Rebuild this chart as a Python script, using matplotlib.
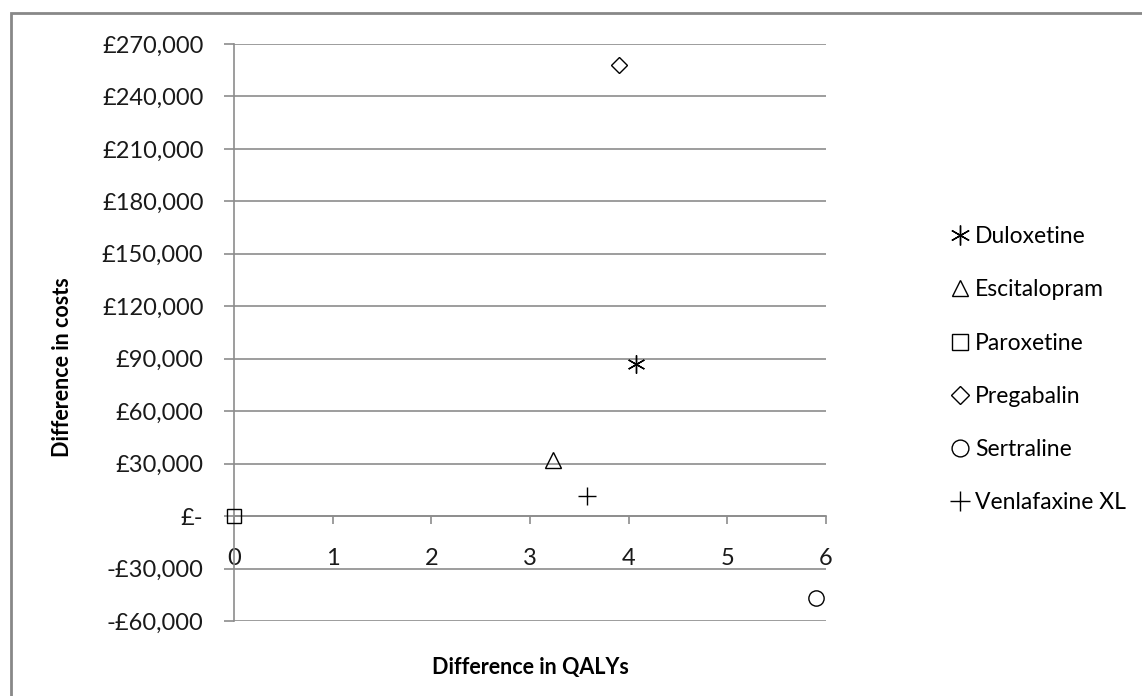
import matplotlib.pyplot as plt
from matplotlib.patches import Rectangle

# Cost-effectiveness plane: difference in QALYs vs difference in costs
drugs = ['Duloxetine', 'Escitalopram', 'Paroxetine', 'Pregabalin', 'Sertraline', 'Venlafaxine XL']
qalys = [4.07, 3.23, 0.0, 3.90, 5.90, 3.58]
costs = [87000, 32000, 0, 258000, -47000, 11500]
markers = [(6, 2, 0), '^', 's', 'D', 'o', '+']
msizes = [13, 11, 10, 8, 11, 13]

yticks = [-60000, -30000, 0, 30000, 60000, 90000, 120000, 150000, 180000, 210000, 240000, 270000]
ylabels = ['-£60,000', '-£30,000', '£-', '£30,000', '£60,000', '£90,000', '£120,000',
           '£150,000', '£180,000', '£210,000', '£240,000', '£270,000']
xticks = [0, 1, 2, 3, 4, 5, 6]

plt.rcParams['font.family'] = ['Lato', 'DejaVu Sans']
grey = '#8c8c8c'

fig = plt.figure(figsize=(11.42, 6.96), dpi=100)
ax = fig.add_axes([234 / 1142, 1 - 621 / 696, 592 / 1142, 577 / 696])

for d, x, y, m, s in zip(drugs, qalys, costs, markers, msizes):
    ax.plot(x, y, linestyle='none', marker=m, markersize=s, markerfacecolor='none',
            markeredgecolor='black', markeredgewidth=1.0, label=d, clip_on=False, zorder=5)

ax.set_xlim(0, 6)
ax.set_ylim(-60000, 270000)
ax.set_xticks(xticks)
ax.set_yticks(yticks)
ax.set_yticklabels(ylabels)
ax.yaxis.grid(True, color=grey, linewidth=1.2)
ax.set_axisbelow(True)

for side in ['top', 'right']:
    ax.spines[side].set_visible(False)
ax.spines['bottom'].set_position(('data', 0))
ax.spines['bottom'].set_color(grey)
ax.spines['left'].set_color(grey)
ax.spines['bottom'].set_linewidth(1.2)
ax.spines['left'].set_linewidth(1.2)

ax.tick_params(axis='y', direction='out', length=7, width=1.2, color=grey, pad=15,
               labelsize=17, labelcolor='#1a1a1a')
ax.tick_params(axis='x', direction='out', length=6, width=1.2, color=grey, pad=17,
               labelsize=17, labelcolor='#1a1a1a')

ax.set_xlabel('Difference in QALYs', fontsize=15.5, fontweight='bold')
ax.set_ylabel('Difference in costs', fontsize=15.5, fontweight='bold')
ax.xaxis.set_label_coords(0.5, -0.062)
ax.yaxis.set_label_coords(-0.272, 0.44)

fig.legend(loc='center left', bbox_to_anchor=(942 / 1142, 0.469), frameon=False,
           fontsize=16.5, handlelength=0.75, handletextpad=0.3, labelspacing=1.4,
           borderaxespad=0, markerscale=1.1)

# outer chart border (left and top visible in the reference)
fig.patches.append(Rectangle((11 / 1142, -0.1), 1.2, 1 - 13 / 696 + 0.1,
                             transform=fig.transFigure, fill=False,
                             edgecolor='#888888', linewidth=2.0))

fig.savefig('out.png', dpi=100)
